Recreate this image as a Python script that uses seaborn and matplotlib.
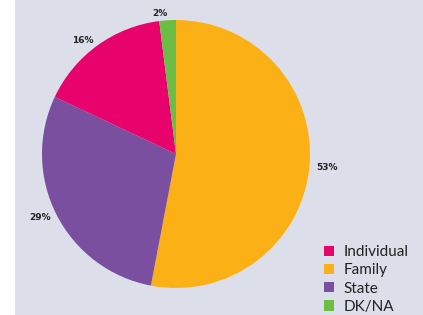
import matplotlib
matplotlib.use("Agg")
import matplotlib.pyplot as plt
import seaborn as sns
from matplotlib.patches import Rectangle

sns.set_theme(style="white")
plt.rcParams['font.family'] = ['Lato', 'DejaVu Sans']

# data, in clockwise order from the top
labels = ["Family", "State", "Individual", "DK/NA"]
shares = [53, 29, 16, 2]
colors = ["#fbb116", "#7b4f9f", "#e8036c", "#6cbd45"]
legend_order = ["Individual", "Family", "State", "DK/NA"]

W, H = 423, 315
fig = plt.figure(figsize=(W / 100, H / 100), dpi=100)
fig.patch.set_facecolor("white")
# lavender panel behind everything
fig.patches.append(Rectangle((15 / W, 0), 1 - 15 / W, 1, transform=fig.transFigure,
                             facecolor="#dcdfea", edgecolor="none", zorder=-10))

cx, cy, r = 176, 154, 134
ax = fig.add_axes([(cx - r) / W, (H - cy - r) / H, 2 * r / W, 2 * r / H])
ax.set_facecolor("none")
ax.set_zorder(1)

wedges, texts = ax.pie(shares, colors=colors, startangle=90, counterclock=False,
                       labels=[f"{s}%" for s in shares], labeldistance=1.05,
                       wedgeprops=dict(linewidth=0),
                       textprops=dict(fontsize=6.5, fontweight="bold", color="#222222",
                                      family="DejaVu Sans"))
ax.set_xlim(-1, 1)
ax.set_ylim(-1, 1)
ax.axis("off")

handles = [wedges[labels.index(n)] for n in legend_order]
leg = fig.legend(handles, legend_order, loc="upper left", bbox_to_anchor=(318 / W, 1 - 239 / H),
                 frameon=False, fontsize=11, handlelength=0.65, handleheight=0.65,
                 handletextpad=0.6, labelspacing=0.28, borderaxespad=0)
leg.set_zorder(2)
for h in leg.legend_handles:
    h.set_linewidth(0)
for t in leg.get_texts():
    t.set_color("#222222")

fig.savefig("out.png", dpi=100)
